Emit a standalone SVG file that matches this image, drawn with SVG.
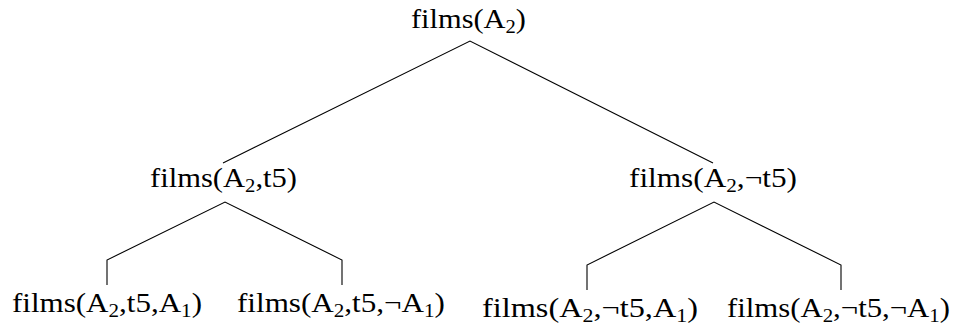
<svg xmlns="http://www.w3.org/2000/svg" width="959" height="329" viewBox="0 0 959 329">
<style>
text{font-family:"Liberation Serif","DejaVu Serif",serif;font-size:28px;fill:#000}
.sub{font-size:19px}
#edges path{fill:none;stroke:#000;stroke-width:1.1}
</style>
<rect width="959" height="329" fill="#fff"/>
<g id="edges">
<path d="M223,163 L470,41 L713,163"/>
<path d="M107,285 L107,260 L225,202 L342,260 L342,285"/>
<path d="M587,290 L587,265 L714,202 L841,265 L841,290"/>
</g>
<g id="n-root"><text x="411" y="28" textLength="115" lengthAdjust="spacingAndGlyphs">films(A<tspan class="sub" dy="5">2</tspan><tspan dy="-5">)</tspan></text></g>
<g id="n-t5"><text x="150" y="187" textLength="147" lengthAdjust="spacingAndGlyphs">films(A<tspan class="sub" dy="5">2</tspan><tspan dy="-5">,t5)</tspan></text></g>
<g id="n-nt5"><text x="629" y="187" textLength="168" lengthAdjust="spacingAndGlyphs">films(A<tspan class="sub" dy="5">2</tspan><tspan dy="-5">,¬t5)</tspan></text></g>
<g id="n-t5-a1"><text x="12" y="312" textLength="190" lengthAdjust="spacingAndGlyphs">films(A<tspan class="sub" dy="5">2</tspan><tspan dy="-5">,t5,A</tspan><tspan class="sub" dy="5">1</tspan><tspan dy="-5">)</tspan></text></g>
<g id="n-t5-na1"><text x="237" y="312" textLength="208" lengthAdjust="spacingAndGlyphs">films(A<tspan class="sub" dy="5">2</tspan><tspan dy="-5">,t5,¬A</tspan><tspan class="sub" dy="5">1</tspan><tspan dy="-5">)</tspan></text></g>
<g id="n-nt5-a1"><text x="482" y="317" textLength="216" lengthAdjust="spacingAndGlyphs">films(A<tspan class="sub" dy="5">2</tspan><tspan dy="-5">,¬t5,A</tspan><tspan class="sub" dy="5">1</tspan><tspan dy="-5">)</tspan></text></g>
<g id="n-nt5-na1"><text x="727" y="317" textLength="223" lengthAdjust="spacingAndGlyphs">films(A<tspan class="sub" dy="5">2</tspan><tspan dy="-5">,¬t5,¬A</tspan><tspan class="sub" dy="5">1</tspan><tspan dy="-5">)</tspan></text></g>
</svg>
